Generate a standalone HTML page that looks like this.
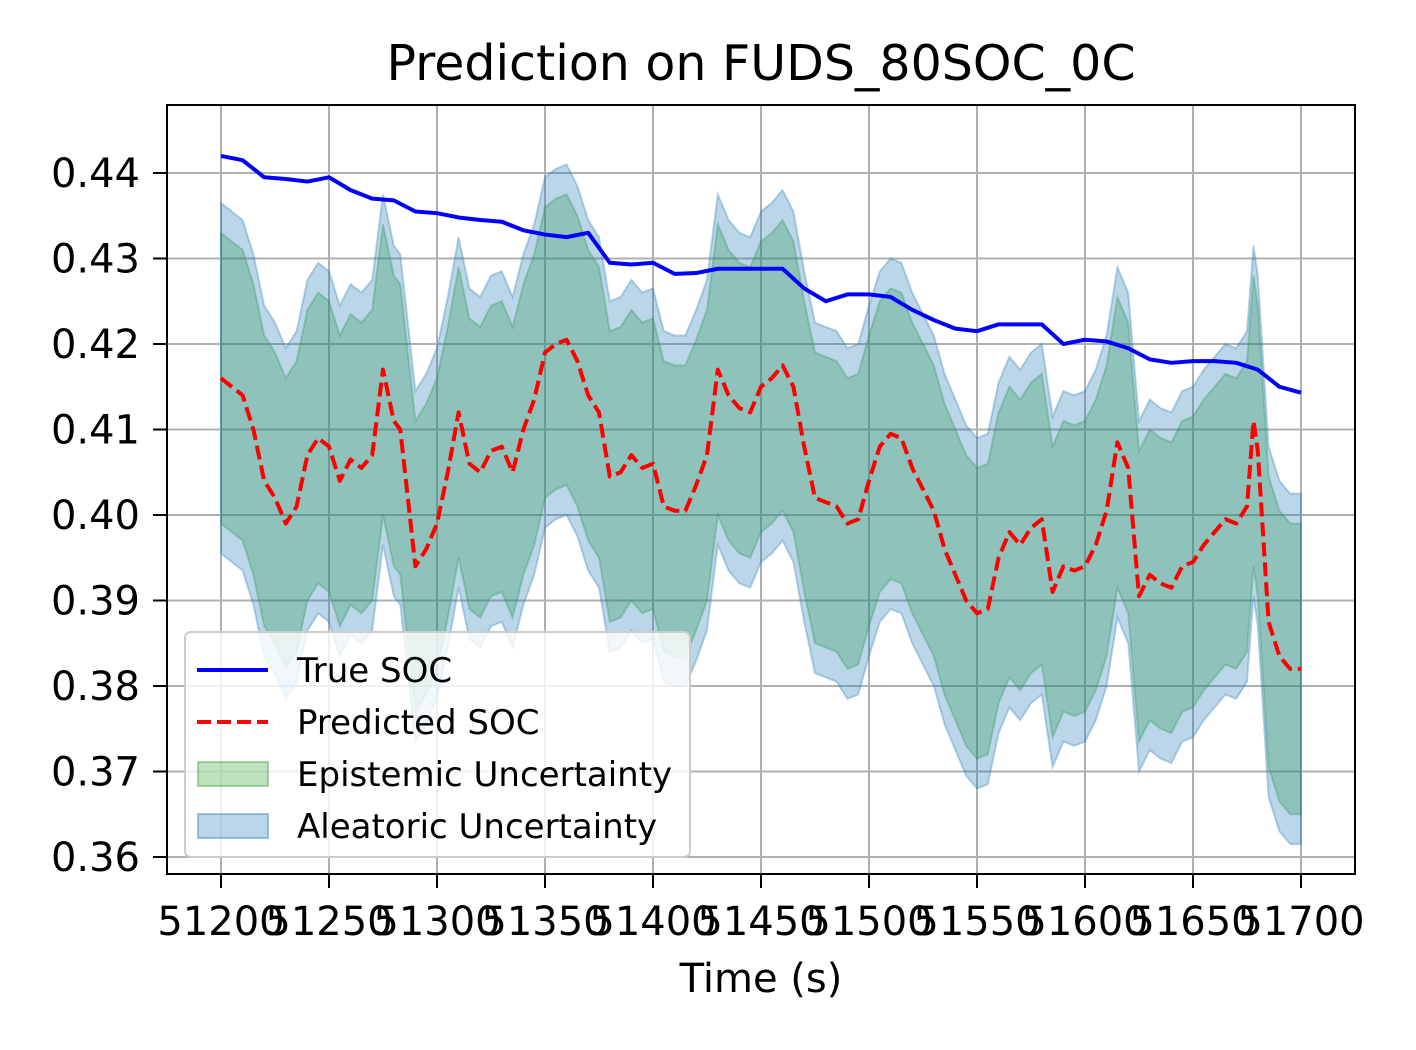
<!DOCTYPE html>
<html><head><meta charset="utf-8"><style>
html,body{margin:0;padding:0;background:#fff;}
svg{display:block;font-family:"DejaVu Sans","Liberation Sans",sans-serif;}
</style></head><body>
<svg id="chart" width="1416" height="1050" xmlns="http://www.w3.org/2000/svg">
<rect width="1416" height="1050" fill="#fff"/>
<text x="761" y="80" font-size="49" text-anchor="middle">Prediction on FUDS_80SOC_0C</text>
<g id="grid"></g>
<g id="bands"></g>
<g id="lines"></g>
<rect x="167" y="105" width="1188" height="769" fill="none" stroke="#000" stroke-width="2"/>
<g id="ticks"></g>
<text x="761" y="992" font-size="40" text-anchor="middle">Time (s)</text>
<g>
<rect x="185" y="632" width="505" height="225" rx="6" fill="#fff" fill-opacity="0.8" stroke="#ccc" stroke-width="2"/>
<line x1="197" y1="670" x2="268" y2="670" stroke="#0000ff" stroke-width="4"/>
<text x="297" y="682" font-size="34">True SOC</text>
<line x1="197" y1="722" x2="268" y2="722" stroke="#ff0000" stroke-width="4" stroke-dasharray="14,6"/>
<text x="297" y="734" font-size="34">Predicted SOC</text>
<rect x="198" y="762" width="70" height="24" fill="#2ca02c" fill-opacity="0.3" stroke="#2ca02c" stroke-opacity="0.4" stroke-width="2"/>
<text x="297" y="786" font-size="34">Epistemic Uncertainty</text>
<rect x="198" y="814" width="70" height="24" fill="#1f77b4" fill-opacity="0.3" stroke="#1f77b4" stroke-opacity="0.4" stroke-width="2"/>
<text x="297" y="838" font-size="34">Aleatoric Uncertainty</text>
</g>
</svg>
<script>
const trueTimes=[51200,51210,51220,51230,51240,51250,51260,51270,51280,51290,51300,51310,51320,51330,51340,51350,51360,51370,51380,51390,51400,51410,51420,51430,51440,51450,51460,51470,51480,51490,51500,51510,51520,51530,51540,51550,51560,51570,51580,51590,51600,51610,51620,51630,51640,51650,51660,51670,51680,51690,51700];
const trueSoc=[0.442,0.4415,0.4395,0.4393,0.439,0.4395,0.438,0.437,0.4368,0.4355,0.4353,0.4348,0.4345,0.4343,0.4333,0.4328,0.4325,0.433,0.4295,0.4293,0.4295,0.4282,0.4283,0.4288,0.4288,0.4288,0.4288,0.4265,0.425,0.4258,0.4258,0.4255,0.424,0.4228,0.4218,0.4215,0.4223,0.4223,0.4223,0.42,0.4205,0.4203,0.4195,0.4182,0.4178,0.418,0.418,0.4178,0.417,0.415,0.4143];
const predTimes=[51200,51205,51210,51215,51220,51225,51230,51235,51240,51245,51250,51255,51260,51265,51270,51275,51280,51283,51290,51295,51300,51305,51310,51315,51320,51325,51330,51335,51340,51345,51350,51355,51360,51365,51370,51375,51380,51385,51390,51395,51400,51405,51410,51415,51420,51425,51430,51435,51440,51445,51450,51455,51460,51465,51470,51475,51480,51485,51490,51495,51500,51505,51510,51515,51520,51525,51530,51535,51540,51545,51550,51555,51560,51565,51570,51575,51580,51585,51590,51595,51600,51605,51610,51615,51620,51625,51630,51635,51640,51645,51650,51655,51660,51665,51670,51675,51678,51680,51685,51690,51695,51700];
const predSoc=[0.416,0.415,0.414,0.41,0.404,0.402,0.399,0.401,0.407,0.409,0.408,0.404,0.4065,0.4055,0.407,0.417,0.411,0.41,0.394,0.396,0.399,0.405,0.412,0.406,0.405,0.4075,0.408,0.405,0.41,0.4135,0.419,0.42,0.4205,0.418,0.414,0.412,0.4045,0.405,0.407,0.4055,0.406,0.401,0.4005,0.4005,0.4035,0.407,0.417,0.414,0.4125,0.412,0.415,0.416,0.4175,0.415,0.408,0.402,0.4015,0.401,0.399,0.3995,0.404,0.408,0.4095,0.409,0.4055,0.403,0.4005,0.396,0.393,0.39,0.3885,0.389,0.395,0.398,0.3965,0.3985,0.3995,0.391,0.394,0.3935,0.394,0.3965,0.4005,0.4085,0.4055,0.3905,0.393,0.392,0.3915,0.394,0.3945,0.3965,0.398,0.3995,0.399,0.401,0.411,0.4075,0.3875,0.3835,0.382,0.382];
const epistemicHalf=0.017;
const aleatoricHalf=0.0205;
const xTicks=[51200,51250,51300,51350,51400,51450,51500,51550,51600,51650,51700];
const yTicks=[0.36,0.37,0.38,0.39,0.40,0.41,0.42,0.43,0.44];
const yTickLabels=["0.36","0.37","0.38","0.39","0.40","0.41","0.42","0.43","0.44"];

const NS="http://www.w3.org/2000/svg";
const X=t=>221+(t-51200)*2.16;
const Y=v=>857-(v-0.36)*8550;
function mk(tag,attrs,parent){const e=document.createElementNS(NS,tag);for(const k in attrs)e.setAttribute(k,attrs[k]);parent.appendChild(e);return e;}
const grid=document.getElementById('grid'),ticks=document.getElementById('ticks'),bands=document.getElementById('bands'),lines=document.getElementById('lines');
xTicks.forEach(t=>{
  const g=mk('line',{x1:X(t),x2:X(t),y1:105,y2:874,stroke:'#b0b0b0','stroke-width':2},grid);
  
  
  mk('line',{x1:X(t),x2:X(t),y1:874,y2:888,stroke:'#000','stroke-width':2},ticks);
  const tx=mk('text',{x:X(t),y:935,'font-size':40,'text-anchor':'middle'},ticks);
  tx.textContent=String(t);
  
  
});
yTicks.forEach((v,i)=>{
  const g=mk('line',{x1:167,x2:1355,y1:Y(v),y2:Y(v),stroke:'#b0b0b0','stroke-width':2},grid);
  
  
  mk('line',{x1:153,x2:167,y1:Y(v),y2:Y(v),stroke:'#000','stroke-width':2},ticks);
  const tx=mk('text',{x:140,y:Y(v)+14,'font-size':40,'text-anchor':'end'},ticks);
  tx.textContent=yTickLabels[i];
  
  
});
function band(h){
  let up=predTimes.map((t,i)=>X(t)+','+Y(predSoc[i]+h));
  let lo=predTimes.map((t,i)=>X(t)+','+Y(predSoc[i]-h)).reverse();
  return 'M'+up.join('L')+'L'+lo.join('L')+'Z';
}
const ep=mk('path',{d:band(epistemicHalf),fill:'#2ca02c','fill-opacity':0.3,stroke:'#2ca02c','stroke-opacity':0.3,'stroke-width':2},bands);


const al=mk('path',{d:band(aleatoricHalf),fill:'#1f77b4','fill-opacity':0.3,stroke:'#1f77b4','stroke-opacity':0.3,'stroke-width':2},bands);


const tl=mk('polyline',{points:trueTimes.map((t,i)=>X(t)+','+Y(trueSoc[i])).join(' '),fill:'none',stroke:'#0000ff','stroke-width':4,'stroke-linejoin':'round'},lines);


const pl=mk('polyline',{points:predTimes.map((t,i)=>X(t)+','+Y(predSoc[i])).join(' '),fill:'none',stroke:'#ff0000','stroke-width':4,'stroke-dasharray':'14,6','stroke-linejoin':'round'},lines);


</script>
</body></html>
